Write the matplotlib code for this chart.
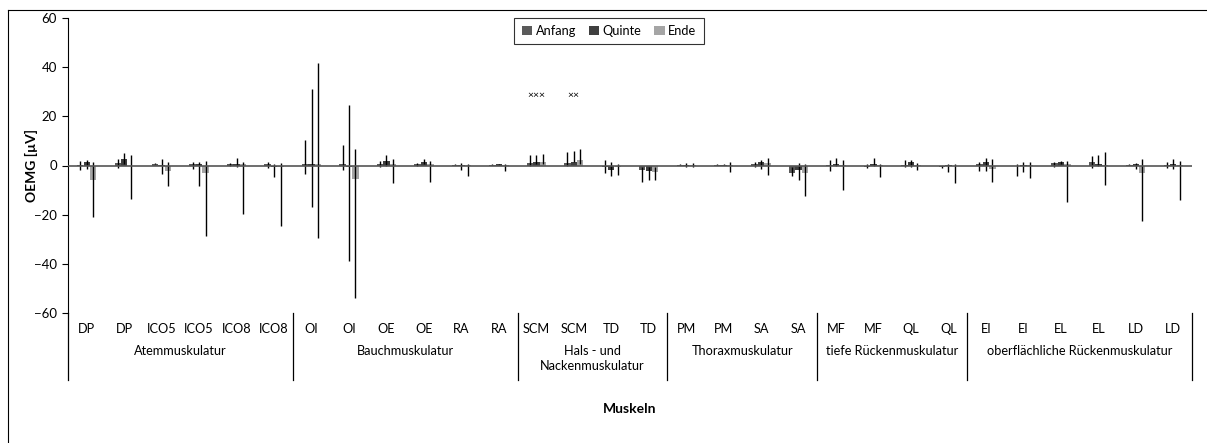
import matplotlib
matplotlib.use("Agg")
import matplotlib.pyplot as plt
import matplotlib.transforms as mtransforms
from matplotlib.lines import Line2D
import numpy as np

plt.rcParams['font.family'] = ['Lato', 'DejaVu Sans']

# ---- data ----
muscles = ["DP", "DP", "ICO5", "ICO5", "ICO8", "ICO8",
           "OI", "OI", "OE", "OE", "RA", "RA",
           "SCM", "SCM", "TD", "TD",
           "PM", "PM", "SA", "SA",
           "MF", "MF", "QL", "QL",
           "EI", "EI", "EL", "EL", "LD", "LD"]
groups = ["Atemmuskulatur", "Bauchmuskulatur", "Hals - und\nNackenmuskulatur",
          "Thoraxmuskulatur", "tiefe Rückenmuskulatur",
          "oberflächliche Rückenmuskulatur"]
group_sizes = [6, 6, 4, 4, 4, 6]
series = ["Anfang", "Quinte", "Ende"]

anfang = [0.3, 1.0, 0.8, 0.5, 0.6, 0.6, 0.5, 0.5, 0.8, 0.5, 0.3, 0.3,
          1.2, 1.2, -0.8, -2.0, 0.4, 0.3, 0.5, -3.1, 0.2, -0.5, 0.4, -0.6,
          0.5, -0.3, 1.2, 1.6, 0.3, 0.3]
anfang_hi = [2.0, 2.7, 1.0, 1.4, 1.2, 1.6, 10.2, 8.2, 2.0, 1.0, 0.5, 0.5,
             4.1, 5.4, 2.3, -0.7, 0.6, 0.5, 1.4, -0.7, 2.3, 0.7, 2.4, -0.2,
             1.4, 0.7, 1.6, 3.7, 0.5, 1.4]
anfang_lo = [-1.8, -1.1, 0.6, -1.4, 0.0, -1.1, -3.4, -2.0, -0.7, 0.0, 0.1, 0.1,
             0.0, 0.0, -3.1, -6.8, 0.2, 0.1, -0.7, -4.1, -2.4, -1.1, -0.7, -1.2,
             -2.4, -4.1, -0.7, -1.0, 0.1, -1.1]

quinte = [1.6, 2.8, 0.1, 0.6, 0.8, -0.5, 0.5, -0.7, 2.0, 1.6, 0.3, 0.5,
          1.5, 1.6, -1.7, -2.3, 0.4, 0.4, 1.6, -1.8, 0.8, 0.6, 1.4, 0.3,
          1.6, 0.4, 1.4, 0.8, 0.5, 0.5]
quinte_hi = [2.3, 5.0, 2.7, 1.6, 3.0, 0.7, 31.3, 24.5, 4.1, 2.7, 1.0, 0.8,
             4.1, 5.8, 1.4, -0.7, 1.0, 0.6, 2.3, 1.0, 3.0, 3.0, 2.4, 0.7,
             3.0, 1.4, 1.8, 4.1, 1.0, 2.7]
quinte_lo = [-1.4, 0.7, -3.4, -8.4, -0.7, -4.8, -17.0, -38.8, 0.0, 0.7, -2.0, 0.2,
             0.7, 1.4, -4.1, -6.1, -0.7, 0.2, -1.4, -5.8, 0.0, -0.4, -0.7, -2.7,
             -2.4, -2.7, 0.8, 0.0, -1.4, -1.6]

ende = [-6.1, -0.3, -2.3, -3.1, 0.8, -0.6, 0.5, -5.4, 0.8, 0.6, 0.1, 0.2,
        1.5, 2.2, -0.8, -2.7, 0.2, 0.2, 0.9, -3.1, 0.2, 0.3, 0.3, -0.2,
        -1.4, 0.3, 0.6, 0.3, -3.1, 0.2]
ende_hi = [1.6, 4.1, 1.4, 2.0, 1.4, 1.0, 41.5, 6.8, 2.7, 2.0, 0.7, 0.7,
           4.8, 6.8, 0.7, -0.7, 1.0, 1.4, 3.0, 0.7, 2.3, 0.7, 1.2, 0.7,
           2.7, 1.6, 2.0, 5.4, 2.7, 2.0]
ende_lo = [-21.0, -13.6, -8.4, -28.6, -19.7, -24.5, -29.3, -54.0, -7.2, -6.8, -4.1, -2.2,
           0.7, 0.7, -3.7, -5.8, -0.7, -2.7, -3.7, -12.6, -9.8, -4.8, -2.0, -7.1,
           -6.8, -5.0, -14.7, -7.9, -22.4, -14.0]

significance = {12: "×××", 13: "××"}
sig_level = 28.5

colors = ["#5a5a5a", "#3f3f3f", "#a5a5a5"]

# ---- figure ----
W, H = 1207, 443
fig = plt.figure(figsize=(W / 100, H / 100), dpi=100)
ax = fig.add_axes([68 / W, 1 - 313 / H, 1124 / W, 295 / H])

n = len(muscles)
x = np.arange(n)
width = 0.17
offsets = [-0.173, 0.0, 0.173]
data = [(anfang, anfang_hi, anfang_lo), (quinte, quinte_hi, quinte_lo),
        (ende, ende_hi, ende_lo)]

for (vals, hi, lo), off, col, lab in zip(data, offsets, colors, series):
    vals = np.array(vals); hi = np.array(hi); lo = np.array(lo)
    ax.bar(x + off, vals, width, color=col, label=lab, zorder=2)
    yerr = np.vstack([np.clip(vals - lo, 0, None), np.clip(hi - vals, 0, None)])
    ax.errorbar(x + off, vals, yerr=yerr, fmt='none', ecolor='black',
                elinewidth=1.0, capsize=0, zorder=3)

ax.axhline(0, color='#555555', lw=1.2, zorder=4)

for i, s in significance.items():
    ax.text(i, sig_level, s, ha='center', va='center', fontsize=7.5)

ax.set_xlim(-0.5, n - 0.5)
ax.set_ylim(-60, 60)
ax.set_yticks(np.arange(-60, 61, 20))
ax.tick_params(axis='y', direction='out', length=4, width=0.8, labelsize=9.5, pad=4)
ax.set_xticks([])
for sp in ['top', 'right', 'bottom']:
    ax.spines[sp].set_visible(False)
ax.spines['left'].set_linewidth(0.8)

trans = mtransforms.blended_transform_factory(ax.transData, ax.transAxes)
ext = -(380 - 313) / 295
# category labels
for i, m in enumerate(muscles):
    ax.text(i, -(329 - 313) / 295, m, transform=trans, ha='center', va='center',
            fontsize=9.2)
# group separators & labels
bounds = np.concatenate([[0], np.cumsum(group_sizes)]) - 0.5
for b in bounds:
    ax.add_line(Line2D([b, b], [0, ext], transform=trans, color='black',
                       lw=0.9, clip_on=False))
for g, a, b in zip(groups, bounds[:-1], bounds[1:]):
    ax.text((a + b) / 2, -(345 - 313) / 295, g, transform=trans, ha='center',
            va='top', fontsize=9.2, linespacing=1.3)

ax.set_ylabel("OEMG [µV]", fontsize=10, fontweight='bold', labelpad=-3)
fig.text((68 + 1192) / 2 / W, 1 - 409 / H, "Muskeln", ha='center', va='center',
         fontsize=10, fontweight='bold')

leg = ax.legend(loc='upper center', bbox_to_anchor=((609 - 68) / 1124, 1.0),
                ncol=3, fontsize=9.2, frameon=True, fancybox=False,
                edgecolor='black', handlelength=0.8, handleheight=0.8,
                handletextpad=0.3, columnspacing=1.0, borderpad=0.55,
                borderaxespad=0.0)
leg.get_frame().set_linewidth(0.8)

# chart border (top & left visible)
fig.add_artist(Line2D([8 / W, 8 / W], [0, 1 - 10 / H], transform=fig.transFigure,
                      color='black', lw=0.8))
fig.add_artist(Line2D([8 / W, 1], [1 - 10 / H, 1 - 10 / H], transform=fig.transFigure,
                      color='black', lw=0.8))

fig.savefig("out.png", dpi=100)
